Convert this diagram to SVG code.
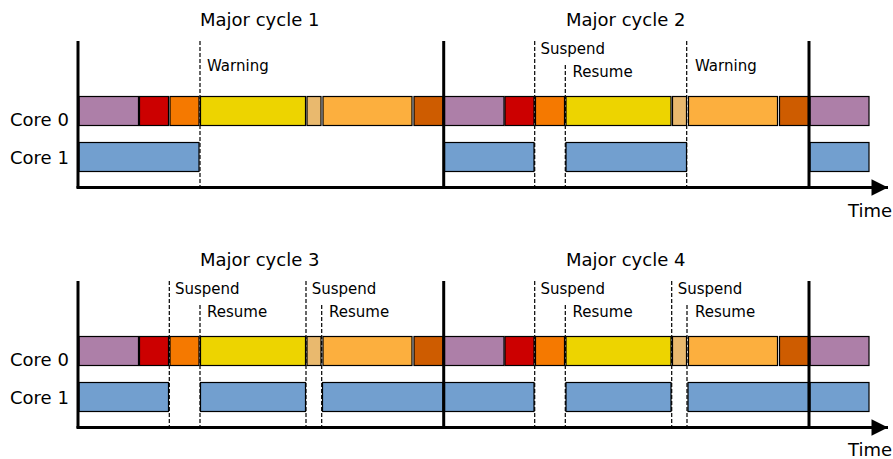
<svg xmlns="http://www.w3.org/2000/svg" width="893" height="459" viewBox="0 0 893 459">
  <defs>
    <style>
      text { font-family: "DejaVu Sans", "Liberation Sans", sans-serif; fill: #000; }
      .title { font-size: 18px; }
      .core { font-size: 18px; }
      .lbl { font-size: 15px; }
      .axis { stroke: #000; stroke-width: 3; fill: none; }
      .div { stroke: #000; stroke-width: 3; fill: none; }
      .dash { stroke: #000; stroke-width: 1.2; stroke-dasharray: 4 2; fill: none; }
      .b { stroke: #000; stroke-width: 1.2; }
      .pu { fill: #ad7fa8; }
      .rd { fill: #cc0000; }
      .or { fill: #f57900; }
      .ye { fill: #edd400; }
      .tn { fill: #e9b96e; }
      .lo { fill: #fcaf3e; }
      .do { fill: #ce5c00; }
      .bl { fill: #729fcf; }
    </style>
    <g id="cycle0">
      <rect class="b pu" x="1" y="96.5" width="59.5" height="29"/>
      <rect class="b rd" x="61.5" y="96.5" width="29" height="29"/>
      <rect class="b or" x="92" y="96.5" width="29" height="29"/>
      <rect class="b ye" x="122.5" y="96.5" width="105" height="29"/>
      <rect class="b tn" x="229" y="96.5" width="14" height="29"/>
      <rect class="b lo" x="245" y="96.5" width="89" height="29"/>
      <rect class="b do" x="336" y="96.5" width="29" height="29"/>
    </g>
    <marker id="arrow" viewBox="0 0 10 10" refX="10" refY="5" markerWidth="6.5" markerHeight="5.5" markerUnits="strokeWidth" orient="auto">
      <path d="M0,0 L10,5 L0,10 Z" fill="#000"/>
    </marker>
  </defs>
  <rect width="893" height="459" fill="#fff"/>

  <!-- ===== Top panel ===== -->
  <g id="panel-top">
    <g id="dashes-top">
      <line class="dash" x1="200" y1="41" x2="200" y2="187"/>
      <line class="dash" x1="534.7" y1="41" x2="534.7" y2="187"/>
      <line class="dash" x1="565.3" y1="65" x2="565.3" y2="187"/>
      <line class="dash" x1="686.7" y1="41" x2="686.7" y2="187"/>
    </g>
    <g id="core0-top">
      <use href="#cycle0" x="78"/>
      <use href="#cycle0" x="443.5"/>
      <rect class="b pu" x="810" y="96.5" width="59" height="29"/>
    </g>
    <g id="core1-top">
      <rect class="b bl" x="79" y="142.5" width="120" height="29"/>
      <rect class="b bl" x="444.5" y="142.5" width="89.5" height="29"/>
      <rect class="b bl" x="566" y="142.5" width="120.5" height="29"/>
      <rect class="b bl" x="810" y="142.5" width="59" height="29"/>
    </g>
    <g id="axes-top">
      <line class="axis" x1="78" y1="41" x2="78" y2="188"/>
      <line class="axis" x1="76.5" y1="187.5" x2="888" y2="187.5" marker-end="url(#arrow)"/>
      <line class="div" x1="443.7" y1="41" x2="443.7" y2="187"/>
      <line class="div" x1="809" y1="41" x2="809" y2="187"/>
    </g>
    <g id="labels-top">
      <text class="title" x="200" y="26">Major cycle 1</text>
      <text class="title" x="566" y="26">Major cycle 2</text>
      <text class="core" x="10" y="126">Core 0</text>
      <text class="core" x="10" y="163.5">Core 1</text>
      <text class="core" x="848" y="217">Time</text>
      <text class="lbl" x="207" y="70.5">Warning</text>
      <text class="lbl" x="540.5" y="54">Suspend</text>
      <text class="lbl" x="572.5" y="77">Resume</text>
      <text class="lbl" x="695" y="70.5">Warning</text>
    </g>
  </g>

  <!-- ===== Bottom panel ===== -->
  <g id="panel-bottom" transform="translate(0,240)">
    <g id="dashes-bottom">
      <line class="dash" x1="169.3" y1="41" x2="169.3" y2="187"/>
      <line class="dash" x1="200" y1="65" x2="200" y2="187"/>
      <line class="dash" x1="306" y1="41" x2="306" y2="187"/>
      <line class="dash" x1="321.7" y1="65" x2="321.7" y2="187"/>
      <line class="dash" x1="534.7" y1="41" x2="534.7" y2="187"/>
      <line class="dash" x1="565.3" y1="65" x2="565.3" y2="187"/>
      <line class="dash" x1="671.7" y1="41" x2="671.7" y2="187"/>
      <line class="dash" x1="687" y1="65" x2="687" y2="187"/>
    </g>
    <g id="core0-bottom">
      <use href="#cycle0" x="78"/>
      <use href="#cycle0" x="443.5"/>
      <rect class="b pu" x="810" y="96.5" width="59" height="29"/>
    </g>
    <g id="core1-bottom">
      <rect class="b bl" x="79" y="142.5" width="89.5" height="29"/>
      <rect class="b bl" x="200.5" y="142.5" width="105" height="29"/>
      <rect class="b bl" x="322.5" y="142.5" width="120.5" height="29"/>
      <rect class="b bl" x="444.5" y="142.5" width="89.5" height="29"/>
      <rect class="b bl" x="566" y="142.5" width="105" height="29"/>
      <rect class="b bl" x="688" y="142.5" width="120.5" height="29"/>
      <rect class="b bl" x="810" y="142.5" width="59" height="29"/>
    </g>
    <g id="axes-bottom">
      <line class="axis" x1="78" y1="41" x2="78" y2="188"/>
      <line class="axis" x1="76.5" y1="187.5" x2="888" y2="187.5" marker-end="url(#arrow)"/>
      <line class="div" x1="443.7" y1="41" x2="443.7" y2="187"/>
      <line class="div" x1="809" y1="41" x2="809" y2="187"/>
    </g>
    <g id="labels-bottom">
      <text class="title" x="200" y="26">Major cycle 3</text>
      <text class="title" x="566" y="26">Major cycle 4</text>
      <text class="core" x="10" y="126">Core 0</text>
      <text class="core" x="10" y="163.5">Core 1</text>
      <text class="core" x="848" y="216">Time</text>
      <text class="lbl" x="175" y="54">Suspend</text>
      <text class="lbl" x="207" y="77">Resume</text>
      <text class="lbl" x="311.7" y="54">Suspend</text>
      <text class="lbl" x="329" y="77">Resume</text>
      <text class="lbl" x="540.5" y="54">Suspend</text>
      <text class="lbl" x="572.5" y="77">Resume</text>
      <text class="lbl" x="677.7" y="54">Suspend</text>
      <text class="lbl" x="695" y="77">Resume</text>
    </g>
  </g>
</svg>
